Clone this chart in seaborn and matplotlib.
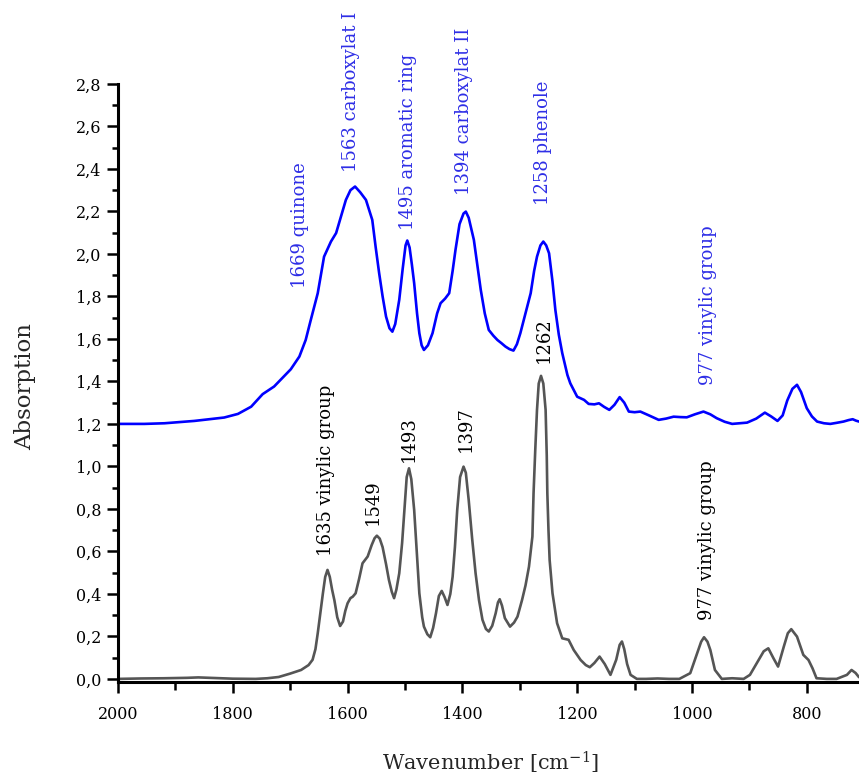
import numpy as np
import pandas as pd
import matplotlib
matplotlib.use("Agg")
import matplotlib.pyplot as plt
from matplotlib.ticker import MultipleLocator, FuncFormatter
import seaborn as sns

# ---- spectrum data ----
grey_wn = [2000, 1960, 1920, 1880, 1860, 1840, 1800, 1760, 1740, 1720, 1700, 1681, 1668, 1661,
           1656, 1652, 1647, 1643, 1639, 1635, 1631, 1627, 1623, 1618, 1613, 1608, 1604, 1600,
           1595, 1591, 1586, 1580, 1574, 1565, 1558, 1553, 1549, 1544, 1539, 1533, 1528, 1523,
           1519, 1515, 1510, 1505, 1501, 1497, 1493, 1489, 1484, 1479, 1475, 1470, 1467, 1461,
           1456, 1451, 1446, 1441, 1436, 1431, 1426, 1421, 1417, 1413, 1409, 1404, 1398, 1394,
           1389, 1383, 1377, 1371, 1365, 1359, 1354, 1348, 1342, 1338, 1335, 1331, 1326, 1317,
           1310, 1304, 1296, 1290, 1284, 1278, 1276, 1273, 1270, 1267, 1263, 1259, 1255, 1253,
           1252, 1250, 1248, 1243, 1235, 1226, 1215, 1206, 1194, 1185, 1178, 1170, 1161, 1152,
           1142, 1132, 1126, 1122, 1118, 1113, 1107, 1096, 1080, 1060, 1040, 1022, 1003, 991,
           984, 979, 973, 968, 960, 948, 930, 910, 899, 884, 875, 867, 858, 850, 840, 833,
           827, 817, 806, 797, 790, 783, 765, 748, 730, 722, 715, 709]
grey_abs = [0.000, 0.002, 0.003, 0.005, 0.007, 0.005, 0.001, 0.000, 0.003, 0.009, 0.025, 0.042,
            0.065, 0.090, 0.140, 0.215, 0.320, 0.403, 0.480, 0.513, 0.480, 0.420, 0.370, 0.290,
            0.249, 0.270, 0.320, 0.356, 0.380, 0.387, 0.403, 0.470, 0.544, 0.576, 0.630, 0.662,
            0.674, 0.660, 0.620, 0.540, 0.466, 0.410, 0.380, 0.420, 0.497, 0.640, 0.795, 0.950,
            0.991, 0.940, 0.795, 0.580, 0.403, 0.290, 0.246, 0.210, 0.196, 0.240, 0.309, 0.390,
            0.414, 0.385, 0.348, 0.400, 0.481, 0.620, 0.795, 0.950, 0.999, 0.970, 0.842, 0.660,
            0.497, 0.370, 0.278, 0.235, 0.223, 0.250, 0.309, 0.360, 0.375, 0.345, 0.286, 0.246,
            0.265, 0.293, 0.372, 0.440, 0.528, 0.670, 0.874, 1.080, 1.266, 1.390, 1.426, 1.390,
            1.266, 1.050, 0.874, 0.700, 0.560, 0.403, 0.262, 0.191, 0.184, 0.136, 0.089, 0.065,
            0.055, 0.075, 0.105, 0.070, 0.019, 0.090, 0.160, 0.176, 0.140, 0.070, 0.019, 0.000,
            0.000, 0.002, 0.000, 0.000, 0.027, 0.121, 0.175, 0.196, 0.175, 0.136, 0.042, 0.000,
            0.003, 0.000, 0.019, 0.089, 0.130, 0.144, 0.097, 0.058, 0.152, 0.215, 0.234, 0.199,
            0.113, 0.089, 0.050, 0.003, 0.000, 0.000, 0.019, 0.042, 0.028, 0.008]

blue_wn = [2000, 1954, 1919, 1867, 1815, 1791, 1768, 1748, 1728, 1699, 1684, 1673, 1665, 1652,
           1641, 1629, 1620, 1611, 1603, 1595, 1587, 1578, 1568, 1557, 1551, 1545, 1539, 1533,
           1527, 1522, 1517, 1510, 1504, 1499, 1496, 1492, 1488, 1484, 1479, 1475, 1471, 1467,
           1460, 1452, 1444, 1438, 1430, 1423, 1417, 1412, 1405, 1398, 1394, 1389, 1380, 1374,
           1368, 1361, 1354, 1346, 1339, 1332, 1325, 1318, 1311, 1305, 1299, 1290, 1281, 1275,
           1270, 1264, 1259, 1254, 1249, 1243, 1238, 1232, 1226, 1217, 1212, 1200, 1188, 1180,
           1170, 1162, 1153, 1144, 1135, 1126, 1118, 1110, 1100, 1090, 1075, 1058, 1045, 1032,
           1020, 1009, 995, 980, 968, 957, 943, 930, 917, 904, 888, 873, 862, 851, 842, 834, 825,
           817, 810, 800, 791, 782, 770, 759, 748, 736, 727, 720, 714, 709]
blue_abs = [1.200, 1.200, 1.203, 1.214, 1.230, 1.247, 1.281, 1.340, 1.376, 1.457, 1.517, 1.595,
            1.680, 1.815, 1.987, 2.058, 2.098, 2.180, 2.254, 2.300, 2.317, 2.290, 2.254, 2.160,
            2.030, 1.909, 1.800, 1.705, 1.650, 1.634, 1.670, 1.784, 1.930, 2.040, 2.063, 2.030,
            1.950, 1.862, 1.720, 1.627, 1.570, 1.548, 1.570, 1.627, 1.720, 1.768, 1.790, 1.815,
            1.920, 2.019, 2.140, 2.190, 2.199, 2.170, 2.066, 1.950, 1.831, 1.720, 1.642, 1.615,
            1.595, 1.580, 1.564, 1.552, 1.545, 1.575, 1.627, 1.720, 1.815, 1.920, 1.987, 2.040,
            2.058, 2.040, 2.003, 1.870, 1.736, 1.620, 1.533, 1.430, 1.391, 1.328, 1.313, 1.294,
            1.292, 1.297, 1.280, 1.266, 1.290, 1.326, 1.300, 1.258, 1.255, 1.258, 1.240, 1.219,
            1.225, 1.234, 1.232, 1.231, 1.245, 1.258, 1.245, 1.227, 1.210, 1.200, 1.203, 1.206,
            1.225, 1.253, 1.235, 1.214, 1.240, 1.310, 1.365, 1.384, 1.350, 1.274, 1.235, 1.211,
            1.203, 1.200, 1.205, 1.211, 1.218, 1.222, 1.215, 1.211]

# band assignments: (wavenumber, label)
blue_labels = [(1683, "1669 quinone"), (1594, "1563 carboxylat I"), (1495, "1495 aromatic ring"),
               (1398, "1394 carboxylat II"), (1259, "1258 phenole"), (972, "977 vinylic group")]
blue_label_y = [1.84, 2.386, 2.113, 2.278, 2.23, 1.384]
grey_labels = [(1637, "1635 vinylic group"), (1556, "1549"), (1494, "1493"), (1394, "1397"),
               (1259, "1262"), (974, "977 vinylic group")]
grey_label_y = [0.576, 0.725, 1.023, 1.07, 1.486, 0.278]

y_ticks = [0.0, 0.2, 0.4, 0.6, 0.8, 1.0, 1.2, 1.4, 1.6, 1.8, 2.0, 2.2, 2.4, 2.6, 2.8]
x_ticks = [2000, 1800, 1600, 1400, 1200, 1000, 800]

BLUE = "#0000ff"
BLUE_TEXT = "#2e2ee6"
GREY = "#555555"

sns.set_style("ticks")
plt.rcParams["font.family"] = ["DejaVu Serif"]
plt.rcParams["mathtext.fontset"] = "dejavuserif"

df = pd.concat([
    pd.DataFrame({"wn": blue_wn, "A": blue_abs, "series": "treated"}),
    pd.DataFrame({"wn": grey_wn, "A": grey_abs, "series": "reference"}),
])

fig = plt.figure(figsize=(8.59, 7.78), dpi=100)
ax = fig.add_axes([118 / 859, 1 - 682.3 / 778, 741 / 859, 598.4 / 778])

sns.lineplot(data=df, x="wn", y="A", hue="series", palette={"treated": BLUE, "reference": GREY},
             sort=False, estimator=None, linewidth=1.9, legend=False, ax=ax)

ax.set_xlim(2000, 709)
ax.set_ylim(-0.016, 2.8)

for s in ["top", "right"]:
    ax.spines[s].set_visible(False)
for s in ["left", "bottom"]:
    ax.spines[s].set_linewidth(2.2)
    ax.spines[s].set_color("black")

ax.set_xticks(x_ticks)
ax.set_yticks(y_ticks)
ax.xaxis.set_minor_locator(MultipleLocator(100))
ax.yaxis.set_minor_locator(MultipleLocator(0.1))
ax.yaxis.set_major_formatter(FuncFormatter(lambda v, p: f"{v:.1f}".replace(".", ",")))
ax.xaxis.set_major_formatter(FuncFormatter(lambda v, p: f"{v:.0f}"))
ax.tick_params(axis="both", which="major", direction="out", length=8, width=1.8,
               labelsize=11.5, color="black", labelcolor="black")
ax.tick_params(axis="x", which="major", pad=9)
ax.tick_params(axis="y", which="major", pad=4)
ax.tick_params(axis="x", which="minor", direction="out", length=6, width=1.8, color="black")
ax.tick_params(axis="y", which="minor", direction="out", length=4, width=1.8, color="black")

ax.set_xlabel("Wavenumber [cm$^{-1}$]", fontsize=15)
ax.set_ylabel("Absorption", fontsize=16.5)
ax.xaxis.set_label_coords(0.503, -0.112)
ax.yaxis.set_label_coords(-0.11, 0.495)

for (wn, text), yv in zip(blue_labels, blue_label_y):
    ax.text(wn, yv, text, rotation=90, ha="center", va="bottom", fontsize=13, color=BLUE_TEXT)
for (wn, text), yv in zip(grey_labels, grey_label_y):
    ax.text(wn, yv, text, rotation=90, ha="center", va="bottom", fontsize=13, color="black")

fig.savefig("out.png", dpi=100)
